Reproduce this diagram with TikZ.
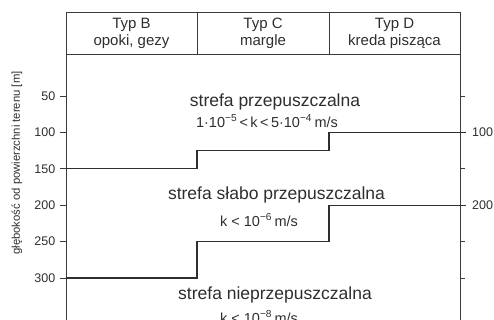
\documentclass[tikz,border=0pt]{standalone}
\usepackage{fontspec}
\setmainfont{Liberation Sans}
\definecolor{ink}{HTML}{2E2E2E}
\definecolor{lin}{HTML}{3A3A3A}
\begin{document}
\begin{tikzpicture}[x=1pt,y=-1pt,
  frame/.style={draw=lin,line width=0.9pt},
  bound/.style={draw=ink,line width=1.3pt},
  tickmark/.style={draw=lin,line width=0.8pt},
  head/.style={text=ink,align=center,inner sep=0pt,font=\fontsize{15}{17}\selectfont},
  zone/.style={text=ink,inner sep=0pt,font=\fontsize{17.5}{20}\selectfont},
  kval/.style={text=ink,inner sep=0pt,font=\fontsize{14.5}{17}\selectfont},
  num/.style={text=ink,inner sep=0pt,font=\fontsize{12.5}{14}\selectfont},
  axl/.style={text=ink,inner sep=0pt,font=\fontsize{11.3}{13}\selectfont}]
\useasboundingbox (0,0) rectangle (494,320);
% frame
\draw[frame] (66,320) -- (66,12) -- (460,12) -- (460,320);
\draw[frame] (66,54) -- (460,54);
\draw[frame] (197,12) -- (197,54);
\draw[frame] (329,12) -- (329,54);
% header
\node[head] (hb) at (131.5,33) {Typ B\\opoki, gezy};
\node[head] (hc) at (263,33) {Typ C\\margle};
\node[head] (hd) at (394.5,33) {Typ D\\kreda pisząca};
% boundaries
\coordinate (b1) at (66,168.8);
\coordinate (c1) at (197,150.6);
\coordinate (d1) at (329,132.4);
\coordinate (e1) at (466,132.4);
\coordinate (b2) at (66,278);
\coordinate (c2) at (197,241.6);
\coordinate (d2) at (329,205.2);
\coordinate (e2) at (466,205.2);
\draw[bound] (b1) -| (c1) -| (d1) -- (e1);
\draw[bound] (b2) -| (c2) -| (d2) -- (e2);
% left ticks and labels
\foreach \d in {50,100,150,200,250,300}{
  \pgfmathsetmacro{\yy}{59.6+0.728*\d}
  \draw[tickmark] (60,\yy) -- (66,\yy);
  \node[num,anchor=east] (l\d) at (55.5,\yy) {\d};
}
% right ticks
\foreach \d in {50,150,250,300}{
  \pgfmathsetmacro{\yy}{59.6+0.728*\d}
  \draw[tickmark] (460,\yy) -- (465,\yy);
}
\node[num,anchor=west] (r100) at (472,132.4) {100};
\node[num,anchor=west] (r200) at (472,205.2) {200};
% axis label
\node[axl,rotate=90] (ax) at (17,163) {głębokość od powierzchni terenu [m]};
% zones
\node[zone] (z1) at (275,102) {strefa przepuszczalna};
\node[kval] (k1) at (267,121) {1·10\textsuperscript{−5}\,<\,k\,<\,5·10\textsuperscript{−4}\,m/s};
\node[zone] (z2) at (276.5,195) {strefa słabo przepuszczalna};
\node[kval] (k2) at (259,220) {k < 10\textsuperscript{−6}\,m/s};
\node[zone] (z3) at (275,295) {strefa nieprzepuszczalna};
\node[kval] (k3) at (259,317) {k < 10\textsuperscript{−8}\,m/s};
\end{tikzpicture}
\end{document}
